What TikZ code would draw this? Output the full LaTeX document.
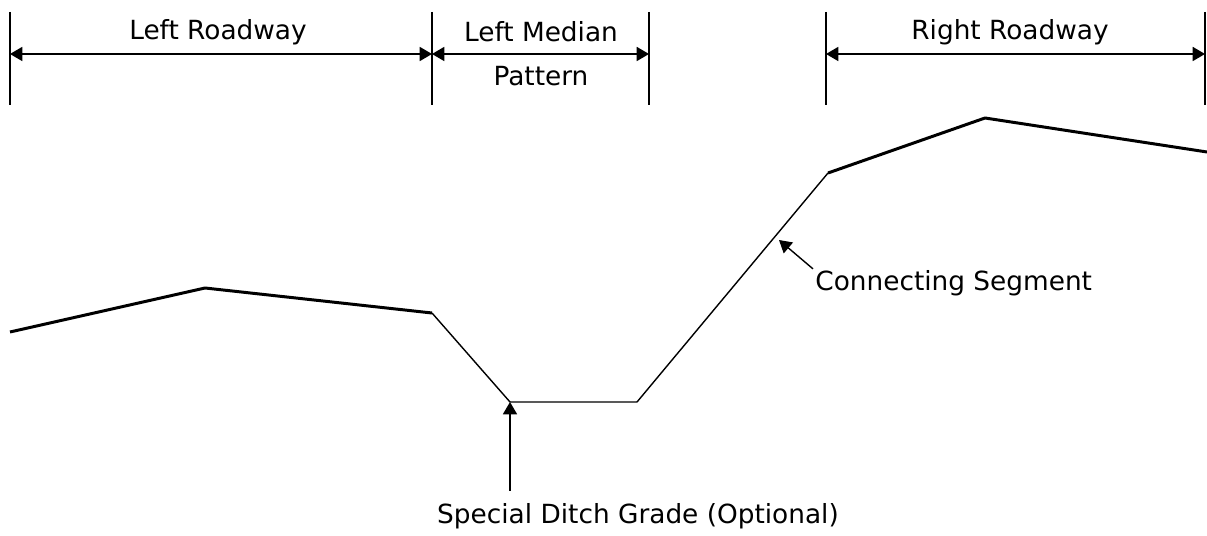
\documentclass[tikz,border=0pt]{standalone}
\usepackage{fontspec}
\setmainfont{DejaVu Sans}
\usetikzlibrary{arrows.meta}
\tikzset{
  lbl/.style={inner sep=0pt,font=\fontsize{15}{18}\selectfont},
  dimline/.style={line width=0.8pt,{Triangle[length=7pt,width=8pt]}-{Triangle[length=7pt,width=8pt]}},
  leader/.style={line width=0.8pt,-{Triangle[length=7pt,width=8pt]}},
  road/.style={line width=1.7pt,line join=round},
  slope/.style={line width=0.8pt,line join=round}
}
\begin{document}
\begin{tikzpicture}[x=0.02cm,y=-0.02cm]
\useasboundingbox (0,0) rectangle (1207,536);
% limits of the sections
\foreach \name/\xx in {a/10,b/432,c/649,d/826,e/1205}{
  \draw[line width=0.8pt] (\xx,12)--(\xx,105);
  \coordinate (\name) at (\xx,54);
}
\draw[dimline] (a)--(b);
\draw[dimline] (b)--(c);
\draw[dimline] (d)--(e);
\node[lbl] (lroad) at (218,32) {Left Roadway};
\node[lbl] (lmed) at (541,32) {Left Median};
\node[lbl] (pat) at (541,76) {Pattern};
\node[lbl] (rroad) at (1010,32) {Right Roadway};
% cross section
\coordinate (p1) at (10,332);
\coordinate (p2) at (205,288);
\coordinate (p3) at (432,313);
\coordinate (p4) at (510,402);
\coordinate (p5) at (637,402);
\coordinate (p6) at (828,173);
\coordinate (p7) at (985,118);
\coordinate (p8) at (1207,152);
\draw[road] (p1)--(p2)--(p3);
\draw[slope] (p3)--(p4)--(p5)--(p6);
\draw[road] (p6)--(p7)--(p8);
% labels
\node[lbl,anchor=west] (conn) at (815,283) {Connecting Segment};
\coordinate (ctip) at (779,240);
\draw[leader] (conn.north west)++(-2,-1) -- (ctip);
\node[lbl] (ditch) at (638,516) {Special Ditch Grade (Optional)};
\coordinate (dtail) at (510,491);
\draw[leader] (dtail)--(p4);
\end{tikzpicture}
\end{document}
